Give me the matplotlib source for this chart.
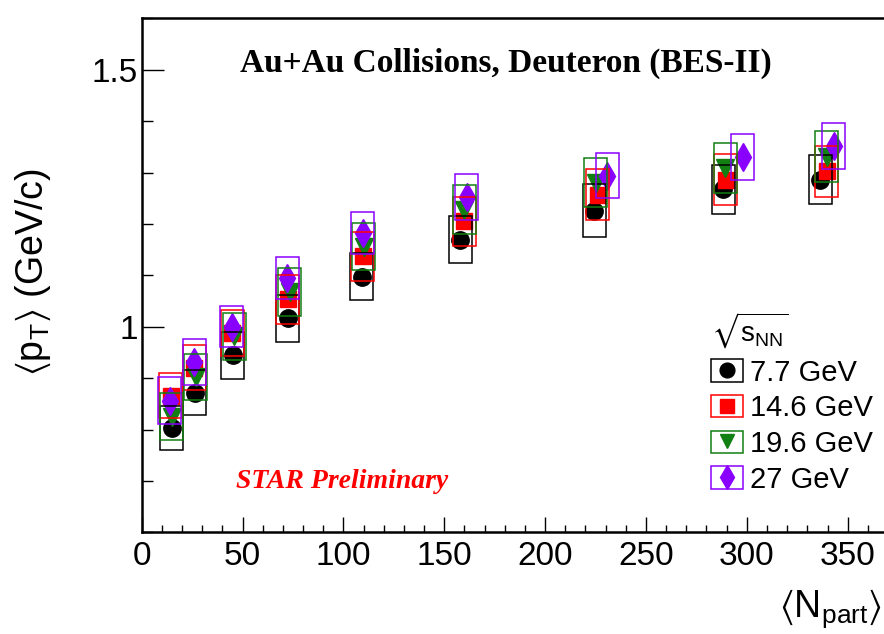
import matplotlib
matplotlib.use('Agg')
import matplotlib.pyplot as plt
from matplotlib.patches import Rectangle, Patch
from matplotlib.lines import Line2D
from matplotlib.legend_handler import HandlerTuple
from matplotlib.ticker import MultipleLocator, FuncFormatter

plt.rcParams['font.family'] = ['Liberation Sans', 'DejaVu Sans']
plt.rcParams['mathtext.fontset'] = 'custom'
plt.rcParams['mathtext.rm'] = 'Liberation Sans'
plt.rcParams['mathtext.it'] = 'Liberation Sans:italic'
plt.rcParams['mathtext.bf'] = 'Liberation Sans:bold'
plt.rcParams['mathtext.fallback'] = 'stix'

# <Npart>, <pT> (GeV/c) and systematic errors for each energy
npart_7 = [15.0, 26.4, 45.2, 72.4, 109.0, 158.0, 224.4, 288.3, 336.3]
pt_7 = [0.803, 0.872, 0.944, 1.016, 1.097, 1.169, 1.226, 1.267, 1.286]
sys_7 = [0.042, 0.043, 0.045, 0.045, 0.046, 0.046, 0.052, 0.048, 0.048]

npart_14 = [14.4, 26.0, 44.9, 72.3, 109.7, 160.0, 226.0, 289.6, 339.6]
pt_14 = [0.866, 0.920, 0.988, 1.053, 1.137, 1.205, 1.257, 1.286, 1.302]
sys_14 = [0.044, 0.044, 0.045, 0.047, 0.048, 0.047, 0.049, 0.050, 0.049]

npart_19 = [14.9, 26.9, 45.8, 73.4, 110.2, 160.0, 225.2, 289.3, 339.6]
pt_19 = [0.825, 0.902, 0.981, 1.067, 1.156, 1.228, 1.280, 1.309, 1.331]
sys_19 = [0.046, 0.045, 0.046, 0.047, 0.045, 0.048, 0.048, 0.049, 0.049]

npart_27 = [14.0, 26.0, 44.7, 72.1, 109.7, 161.2, 230.7, 298.0, 343.2]
pt_27 = [0.856, 0.932, 1.000, 1.095, 1.182, 1.252, 1.294, 1.330, 1.351]
sys_27 = [0.046, 0.045, 0.040, 0.041, 0.041, 0.045, 0.044, 0.045, 0.045]

labels = ['7.7 GeV', '14.6 GeV', '19.6 GeV', '27 GeV']
colors = ['black', '#ff0000', '#127f12', '#8a00ff']
markers = ['o', 's', 'v', 'd']
msizes = [12.5, 12, 12.5, 14]

series = [(npart_7, pt_7, sys_7), (npart_14, pt_14, sys_14),
          (npart_19, pt_19, sys_19), (npart_27, pt_27, sys_27)]

box_hw = 5.7  # half width of systematic boxes in Npart

fig = plt.figure(figsize=(8.84, 6.34), dpi=100)
ax = fig.add_axes([0.1603, 0.1604, 0.8397, 0.8107])
ax.set_xlim(0, 368)
ax.set_ylim(0.6, 1.6)

# markers first, systematic boxes on top
for (x, y, s), c, m, ms in zip(series, colors, markers, msizes):
    ax.plot(x, y, ls='none', marker=m, color=c, markersize=ms, zorder=2)
for (x, y, s), c in zip(series, colors):
    for xi, yi, si in zip(x, y, s):
        ax.add_patch(Rectangle((xi - box_hw, yi - si), 2 * box_hw, 2 * si,
                               fill=False, edgecolor=c, lw=1.1, zorder=3))

for side in ['left', 'bottom', 'top']:
    ax.spines[side].set_linewidth(1.8)
ax.spines['right'].set_visible(False)

ax.xaxis.set_major_locator(MultipleLocator(50))
ax.xaxis.set_minor_locator(MultipleLocator(10))
ax.yaxis.set_major_locator(MultipleLocator(0.5))
ax.yaxis.set_minor_locator(MultipleLocator(0.1))
ax.yaxis.set_major_formatter(FuncFormatter(lambda v, p: '%g' % v))
ax.tick_params(which='both', direction='in', top=False, right=False, width=1.0)
ax.tick_params(axis='x', which='major', length=10.8, labelsize=24, pad=6)
ax.tick_params(axis='x', which='minor', length=5.4)
ax.tick_params(axis='y', which='major', length=15.8, labelsize=24, pad=3)
ax.tick_params(axis='y', which='minor', length=7.9)

fig.text(33 / 884, 1 - 272 / 634, r'$\langle\mathrm{p}_{\mathrm{T}}\rangle$ (GeV/c)',
         rotation=90, ha='center', va='center', fontsize=27)
fig.text(882 / 884, 1 - 617 / 634, r'$\langle\mathrm{N}_{\mathrm{part}}\rangle$',
         ha='right', va='baseline', fontsize=27)

fig.text(506 / 884, 1 - 63 / 634, 'Au+Au Collisions, Deuteron (BES-II)',
         ha='center', va='center', fontsize=24, fontweight='bold',
         family='Liberation Serif')
fig.text(342 / 884, 1 - 481 / 634, 'STAR Preliminary', ha='center', va='center',
         fontsize=20, fontweight='bold', style='italic', color='#ff0000',
         family='Liberation Serif')

handles = []
for c, m, ms in zip(colors, markers, msizes):
    box = Patch(facecolor='none', edgecolor=c, lw=1.1)
    mk = Line2D([], [], ls='none', marker=m, color=c, markersize=ms * 0.85)
    handles.append((box, mk))
leg = ax.legend(handles, labels, title=r'$\sqrt{\mathrm{s}_{\mathrm{NN}}}$',
                handler_map={tuple: HandlerTuple(ndivide=1, pad=0)},
                loc='upper left', bbox_to_anchor=(711 / 884, 1 - 311 / 634),
                bbox_transform=fig.transFigure, frameon=False, fontsize=21,
                title_fontsize=20, alignment='left', handlelength=1.1,
                handleheight=0.8, handletextpad=0.25, labelspacing=0.26,
                borderpad=0, borderaxespad=0)

fig.savefig('out.png', dpi=100)
